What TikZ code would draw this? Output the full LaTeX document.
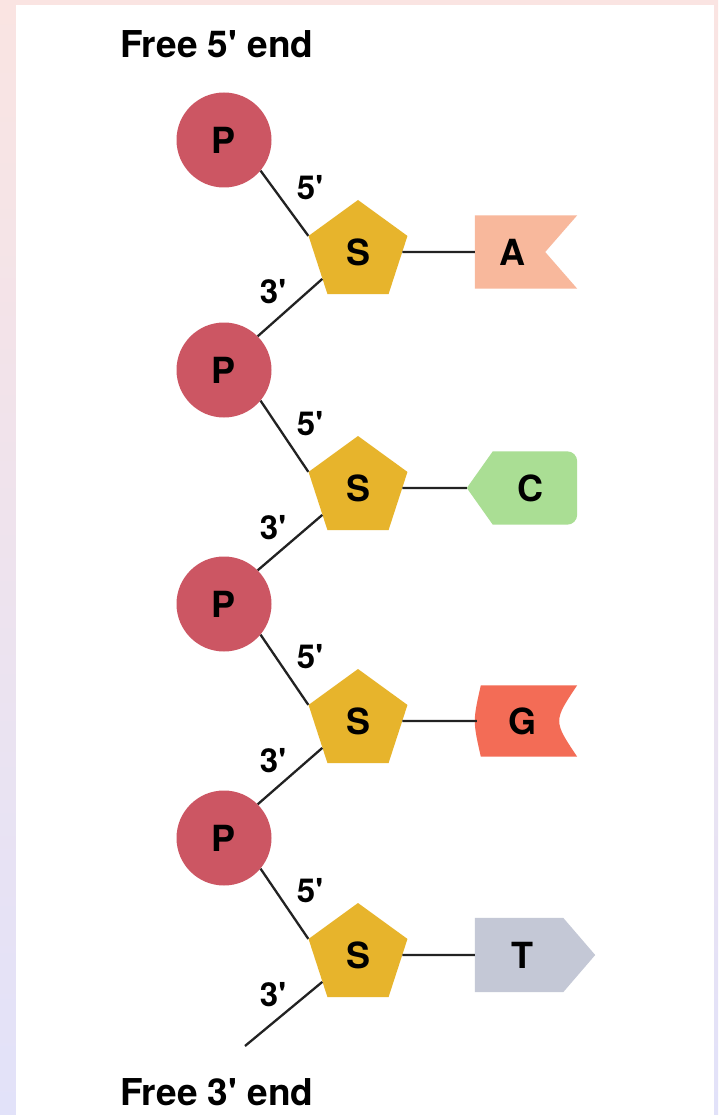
\documentclass[tikz,border=0pt]{standalone}
\usepackage{fontspec}
\setmainfont{TeX Gyre Heros}
\usetikzlibrary{calc,shapes.geometric}
\newcommand\primemark{\textquotesingle}
\definecolor{bgtop}{RGB}{250,228,226}
\definecolor{bgbot}{RGB}{226,226,249}
\definecolor{phos}{RGB}{204,86,99}
\definecolor{sugar}{RGB}{231,180,44}
\definecolor{baseA}{RGB}{248,184,156}
\definecolor{baseC}{RGB}{170,222,148}
\definecolor{baseG}{RGB}{243,108,86}
\definecolor{baseT}{RGB}{196,200,214}
\definecolor{bondcol}{RGB}{34,34,34}
\begin{document}
\begin{tikzpicture}[x=1pt,y=-1pt,
  phosnode/.style={circle, fill=phos, minimum size=95pt, inner sep=0pt,
    font=\fontsize{36}{42}\selectfont\bfseries},
  sugarnode/.style={regular polygon, regular polygon sides=5, fill=sugar,
    minimum size=104pt, inner sep=0pt, font=\fontsize{36}{42}\selectfont\bfseries},
  basebody/.style={inner sep=0pt, minimum height=73pt},
  baseletter/.style={inner sep=0pt, font=\fontsize{36}{42}\selectfont\bfseries},
  primelabel/.style={inner sep=0pt, font=\fontsize{33}{39}\selectfont\bfseries},
  endtitle/.style={anchor=base west, inner sep=0pt, font=\fontsize{37}{43}\selectfont\bfseries},
  bond/.style={draw=bondcol, line width=2.3pt}]

% page background and white panel
\useasboundingbox (0,0) rectangle (718,1115);
\shade[top color=bgtop, bottom color=bgbot] (0,0) rectangle (718,1115);
\fill[white] (16,5) rectangle (714,1115);

% end titles
\node[endtitle] (t5) at (120,58) {Free 5\primemark{} end};
\node[endtitle] (t3) at (120,1105) {Free 3\primemark{} end};

% phosphates and sugars
\node[phosnode] (P1) at (224,140) {P};
\node[phosnode] (P2) at (224,370) {P};
\node[phosnode] (P3) at (224,604) {P};
\node[phosnode] (P4) at (224,838) {P};
\node[sugarnode] (S1) at (358,252) {S};
\node[sugarnode] (S2) at (358,488) {S};
\node[sugarnode] (S3) at (358,721) {S};
\node[sugarnode] (S4) at (358,955) {S};
\coordinate (tail) at (245,1046);

% backbone bonds
\draw[bond] (P1.-40) -- (S1.corner 2);
\draw[bond] (S1.217) -- (P2.45);
\draw[bond] (P2.-40) -- (S2.corner 2);
\draw[bond] (S2.217) -- (P3.45);
\draw[bond] (P3.-40) -- (S3.corner 2);
\draw[bond] (S3.217) -- (P4.45);
\draw[bond] (P4.-40) -- (S4.corner 2);
\draw[bond] (S4.217) -- (tail);

% 5' and 3' labels
\foreach \s/\y in {1/252,2/488,3/721,4/955}{
  \node[primelabel] (five\s) at (310,\y-64) {5\primemark};
  \node[primelabel] (three\s) at (273,\y+40) {3\primemark};
}

% base A (notched flag)
\node[basebody, minimum width=102pt] (bA) at (526,252) {};
\fill[baseA] (bA.north west) -- (bA.north east) -- ([xshift=-32pt]bA.east)
  -- (bA.south east) -- (bA.south west) -- cycle;
\node[baseletter] (lA) at (512,252) {A};

% base C (pointed left, rounded right)
\node[basebody, minimum width=110pt] (bC) at (522,488) {};
\fill[baseC] (bC.west) -- ([xshift=26pt]bC.north west)
  [rounded corners=10pt] -- (bC.north east) -- (bC.south east)
  [sharp corners] -- ([xshift=26pt]bC.south west) -- cycle;
\node[baseletter] (lC) at (530,488) {C};

% base G (concave right side)
\node[basebody, minimum width=100pt, minimum height=71pt] (bG) at (527,721) {};
\fill[baseG] ([xshift=4pt]bG.north west) -- (bG.north east)
  .. controls ([xshift=-24pt]bG.east) .. (bG.south east)
  -- ([xshift=4pt]bG.south west)
  .. controls ([xshift=-4pt]bG.west) .. ([xshift=4pt]bG.north west) -- cycle;
\node[baseletter] (lG) at (522,721) {G};

% base T (pointed right)
\node[basebody, minimum width=120pt, minimum height=74pt] (bT) at (535,955) {};
\fill[baseT] (bT.north west) -- ([xshift=-32pt]bT.north east) -- (bT.east)
  -- ([xshift=-32pt]bT.south east) -- (bT.south west) -- cycle;
\node[baseletter] (lT) at (522,955) {T};

% sugar-base bonds
\draw[bond] (S1) -- (bA);
\draw[bond] (S2) -- (bC.west);
\draw[bond] (S3) -- (bG);
\draw[bond] (S4) -- (bT);
\end{tikzpicture}
\end{document}
